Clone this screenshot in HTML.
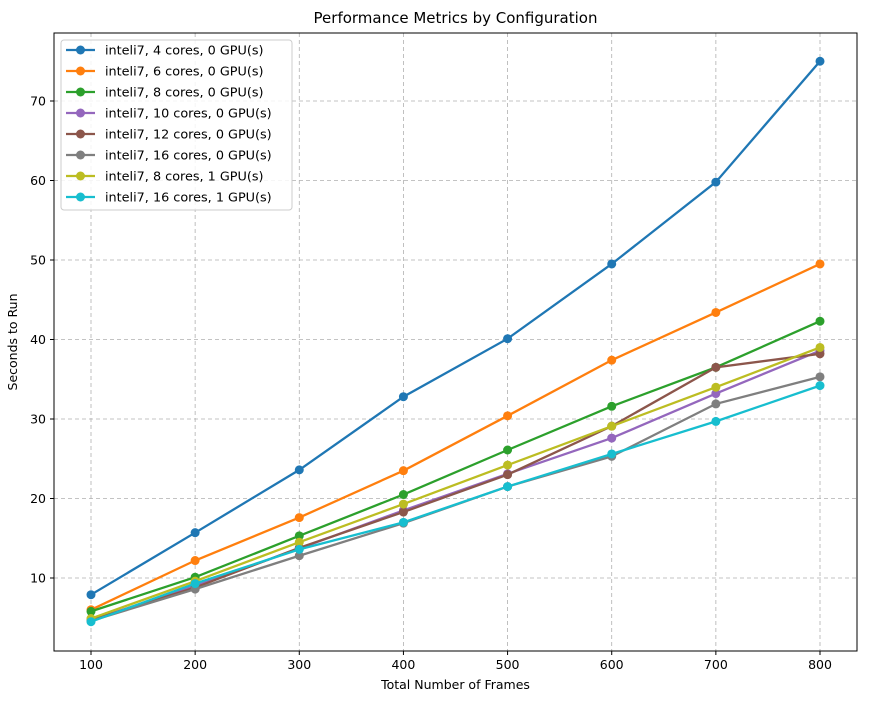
<!DOCTYPE html>
<html><head><meta charset="utf-8"><style>
body{margin:0;background:#fff;font-family:"Liberation Sans","DejaVu Sans",sans-serif}
svg text{font-family:"DejaVu Sans","Liberation Sans",sans-serif}
</style></head><body>
<svg id="chart" width="869" height="700" xmlns="http://www.w3.org/2000/svg"></svg>
<script>
const categories=[100,200,300,400,500,600,700,800];
const seriesNames=["inteli7, 4 cores, 0 GPU(s)","inteli7, 6 cores, 0 GPU(s)","inteli7, 8 cores, 0 GPU(s)","inteli7, 10 cores, 0 GPU(s)","inteli7, 12 cores, 0 GPU(s)","inteli7, 16 cores, 0 GPU(s)","inteli7, 8 cores, 1 GPU(s)","inteli7, 16 cores, 1 GPU(s)"];
const s4c=[7.9,15.7,23.6,32.8,40.1,49.5,59.8,75.0];
const s6c=[6.0,12.2,17.6,23.5,30.4,37.4,43.4,49.5];
const s8c=[5.8,10.1,15.3,20.5,26.1,31.6,36.5,42.3];
const s10c=[4.7,9.0,13.7,18.5,23.1,27.6,33.2,38.6];
const s12c=[4.7,8.8,13.8,18.3,23.0,29.1,36.5,38.2];
const s16c=[4.6,8.6,12.8,16.9,21.5,25.3,31.9,35.3];
const s8g=[4.9,9.6,14.5,19.3,24.2,29.1,34.0,39.0];
const s16g=[4.5,9.3,13.6,17.0,21.5,25.6,29.7,34.2];
const yTicks=[10,20,30,40,50,60,70];
const colors=["#1f77b4","#ff7f0e","#2ca02c","#9467bd","#8c564b","#7f7f7f","#bcbd22","#17becf"];
const allSeries=[s4c,s6c,s8c,s10c,s12c,s16c,s8g,s16g];
const L=54,R=857,T=33,B=651;
const X=v=>91+(v-100)*(820-91)/700;
const Y=v=>657.5-v*7.95;
const svg=document.getElementById('chart');
const NS="http://www.w3.org/2000/svg";
function mk(t,a,p){const e=document.createElementNS(NS,t);for(const k in a)e.setAttribute(k,a[k]);(p||svg).appendChild(e);return e;}
const grid=mk('g',{});


categories.forEach(c=>{mk('line',{x1:X(c),x2:X(c),y1:T,y2:B,stroke:'#b0b0b0','stroke-dasharray':'4,3','stroke-width':0.8},grid);
const t=mk('text',{x:X(c),y:B+18,'font-size':12.5,'text-anchor':'middle',fill:'#000'});t.textContent=c;

mk('line',{x1:X(c),x2:X(c),y1:B,y2:B+4,stroke:'#000'});});
yTicks.forEach(v=>{mk('line',{x1:L,x2:R,y1:Y(v),y2:Y(v),stroke:'#b0b0b0','stroke-dasharray':'4,3','stroke-width':0.8},grid);
const t=mk('text',{x:L-8,y:Y(v)+4.5,'font-size':12.5,'text-anchor':'end',fill:'#000'});t.textContent=v;

mk('line',{x1:L-4,x2:L,y1:Y(v),y2:Y(v),stroke:'#000'});});
allSeries.forEach((s,i)=>{const g=mk('g',{});


mk('polyline',{points:s.map((v,j)=>X(categories[j])+','+Y(v)).join(' '),fill:'none',stroke:colors[i],'stroke-width':2.3},g);
s.forEach((v,j)=>{const c=mk('circle',{cx:X(categories[j]),cy:Y(v),r:4.5,fill:colors[i]},g);
});});
mk('rect',{x:L,y:T,width:R-L,height:B-T,fill:'none',stroke:'#000','stroke-width':1});
const title=mk('text',{x:(L+R)/2,y:23,'font-size':15,'text-anchor':'middle'});title.textContent='Performance Metrics by Configuration';

const xt=mk('text',{x:(L+R)/2,y:689,'font-size':12.5,'text-anchor':'middle'});xt.textContent='Total Number of Frames';

const yt=mk('text',{x:17,y:(T+B)/2,'font-size':12.5,'text-anchor':'middle',transform:'rotate(-90 17 '+(T+B)/2+')'});yt.textContent='Seconds to Run';

const lg=mk('g',{});


mk('rect',{x:61,y:40,width:231,height:170,rx:3,fill:'#fff','fill-opacity':0.85,stroke:'#ccc'},lg);
seriesNames.forEach((n,i)=>{const y=50+i*21;const e=mk('g',{},lg);

mk('line',{x1:66,x2:95,y1:y,y2:y,stroke:colors[i],'stroke-width':2.3},e);
mk('circle',{cx:80.5,cy:y,r:4.5,fill:colors[i]},e);
const t=mk('text',{x:105,y:y+4.5,'font-size':12.8},e);t.textContent=n;});
</script>
</body></html>
